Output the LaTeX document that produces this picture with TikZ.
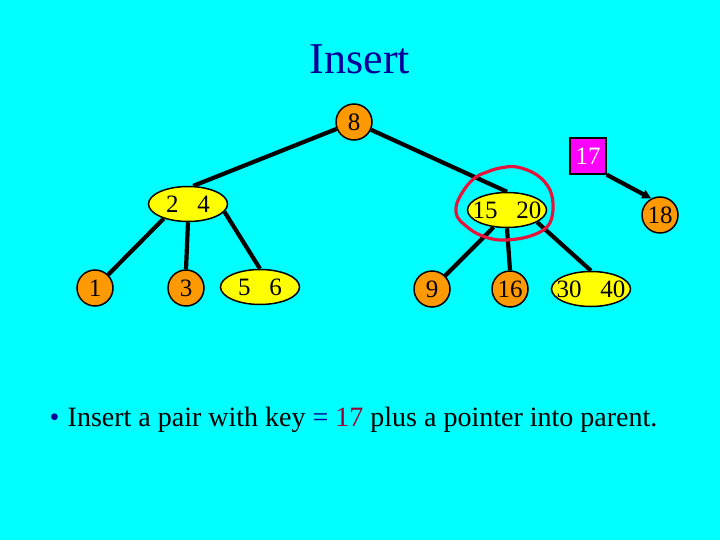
\documentclass[tikz,border=0pt]{standalone}
\usepackage{fontspec}
\setmainfont{Liberation Serif}
\usetikzlibrary{shapes.geometric,arrows.meta}
\definecolor{bgcyan}{RGB}{0,255,255}
\definecolor{nodeorange}{RGB}{255,153,0}
\definecolor{nodeyellow}{RGB}{255,255,0}
\definecolor{boxmagenta}{RGB}{255,0,255}
\definecolor{titleblue}{RGB}{0,0,153}
\definecolor{loopred}{RGB}{230,20,60}
\definecolor{keyred}{RGB}{153,0,51}
\pgfdeclarelayer{edges}
\pgfsetlayers{edges,main}
\newcommand{\keypair}[2]{\makebox[40pt][c]{#1\hspace{0.75em}#2}}
\begin{document}
\begin{tikzpicture}[x=1pt,y=-1pt,
  leaf/.style={circle,draw=black,line width=1.5pt,fill=nodeorange,minimum size=36pt,inner sep=0pt,font=\fontsize{25}{27}\selectfont},
  pair/.style={ellipse,draw=black,line width=1.5pt,fill=nodeyellow,minimum width=79pt,minimum height=35pt,inner sep=0pt,font=\fontsize{25}{27}\selectfont},
  newbox/.style={rectangle,draw=black,line width=1.5pt,fill=boxmagenta,minimum size=36pt,inner sep=0pt,text=white,font=\fontsize{25}{27}\selectfont},
  edge/.style={line width=4.2pt,black},
  ]
\begin{pgfonlayer}{edges}
\fill[bgcyan] (0,0) rectangle (720,540);
\end{pgfonlayer}
\useasboundingbox (0,0) rectangle (720,540);

\node[font=\fontsize{44}{48}\selectfont,text=titleblue] (title) at (360,59) {Insert};

\node[leaf] (n8) at (354,122) {8};
\node[pair] (n24) at (188,204) {\keypair{2}{4}};
\node[pair] (n1520) at (507,210) {\keypair{15}{20}};
\node[leaf] (n1) at (95,288) {1};
\node[leaf] (n3) at (186,288) {3};
\node[pair] (n56) at (260,287) {\keypair{5}{6}};
\node[leaf] (n9) at (432,289) {9};
\node[leaf] (n16) at (510,289) {16};
\node[pair] (n3040) at (591,289) {\keypair{30}{40}};
\node[leaf] (n18) at (660,215) {18};
\node[newbox] (n17) at (588,156) {17};

\begin{pgfonlayer}{edges}
\draw[edge] (n8) -- (n24.74);
\draw[edge] (n8) -- (n1520.north);
\draw[edge] (n24.211) -- (n1);
\draw[edge] (n24.south) -- (n3.north);
\draw[edge] (n24.348) -- (n56.north);
\draw[edge] (n1520.232) -- (n9);
\draw[edge] (n1520.south) -- (n16.north);
\draw[edge] (n1520.338) -- (n3040.north);
\draw[edge,-{Triangle[length=9pt,width=9pt]}] (n17.south east) -- (n18.118);
\end{pgfonlayer}

% red hand-drawn loop
\draw[loopred,line width=3.2pt,line cap=round,line join=round] plot[smooth cycle,tension=0.6] coordinates {
  (487,172) (500,168) (517,167) (537,175) (550,190) (553,210) (547,227)
  (527,237) (500,240) (480,235) (466,226) (457,216) (457,203) (466,187) (476,177)};

\node[anchor=base west,font=\fontsize{28}{32}\selectfont] (caption) at (46,426)
  {{\color{titleblue}\textbullet}\hspace{0.3em}Insert a pair with key {\color{titleblue}=} {\color{keyred}17} plus a pointer into parent.};
\end{tikzpicture}
\end{document}
